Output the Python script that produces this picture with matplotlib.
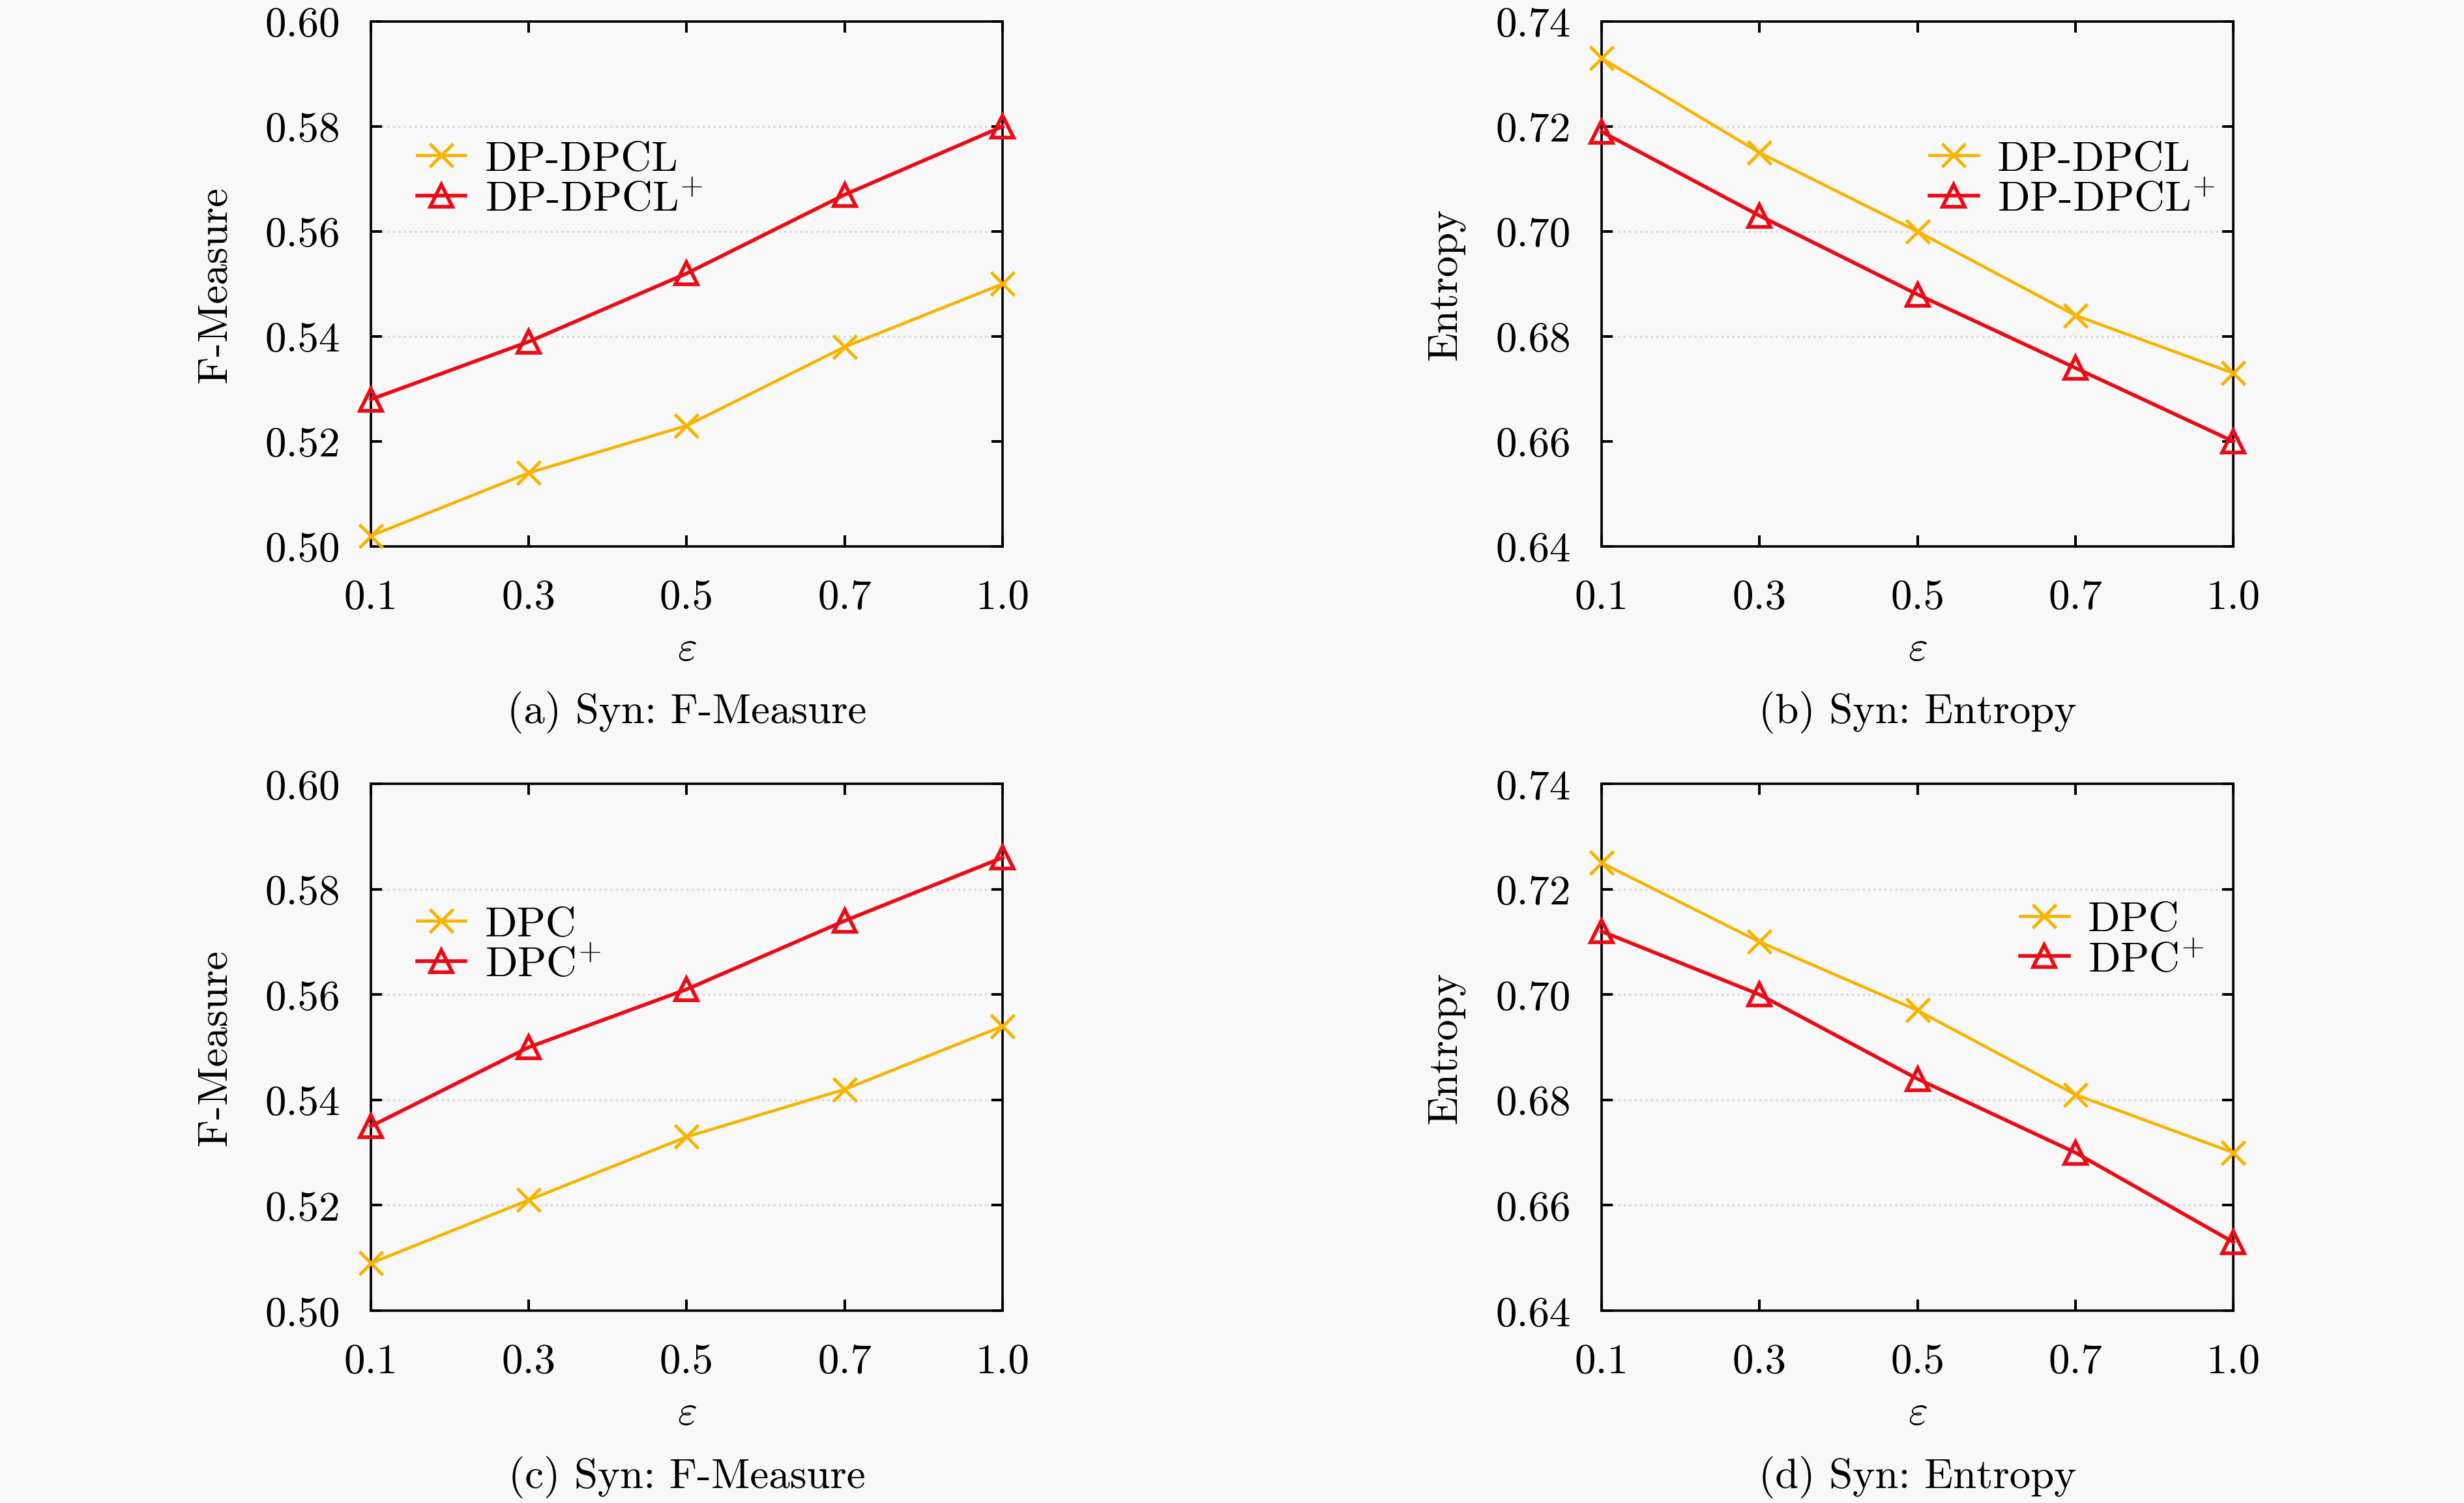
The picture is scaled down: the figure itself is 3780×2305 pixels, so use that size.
import matplotlib
matplotlib.use("Agg")
import matplotlib.pyplot as plt

plt.rcParams["font.family"] = ["cmr10", "DejaVu Serif"]
plt.rcParams["mathtext.fontset"] = "cm"
plt.rcParams["axes.formatter.use_mathtext"] = True

# data
eps_labels = ["0.1", "0.3", "0.5", "0.7", "1.0"]

fm_dpdpcl = [0.502, 0.514, 0.523, 0.538, 0.550]
fm_dpdpcl_plus = [0.528, 0.539, 0.552, 0.567, 0.580]
ent_dpdpcl = [0.733, 0.715, 0.700, 0.684, 0.673]
ent_dpdpcl_plus = [0.719, 0.703, 0.688, 0.674, 0.660]

fm_dpc = [0.509, 0.521, 0.533, 0.542, 0.554]
fm_dpc_plus = [0.535, 0.550, 0.561, 0.574, 0.586]
ent_dpc = [0.725, 0.710, 0.697, 0.681, 0.670]
ent_dpc_plus = [0.712, 0.700, 0.684, 0.670, 0.653]

fm_ticks = [0.50, 0.52, 0.54, 0.56, 0.58, 0.60]
ent_ticks = [0.64, 0.66, 0.68, 0.70, 0.72, 0.74]

YELLOW = "#f6b400"
RED = "#ea0b16"
BG = "#f8f8f8"
FS = 19.5

panels = [
    # rect, base, plus, names, ticks, ylabel, caption, grid levels, legend anchor
    ([0.1505, 0.6362, 0.2564, 0.3491], fm_dpdpcl, fm_dpdpcl_plus,
     ("DP-DPCL", "DP-DPCL$^{+}$"), fm_ticks, "F-Measure", "(a) Syn: F-Measure",
     fm_ticks[2:5], (0.073, 0.699)),
    ([0.6500, 0.6362, 0.2564, 0.3491], ent_dpdpcl, ent_dpdpcl_plus,
     ("DP-DPCL", "DP-DPCL$^{+}$"), ent_ticks, "Entropy", "(b) Syn: Entropy",
     ent_ticks[2:5], (0.519, 0.699)),
    ([0.1505, 0.1279, 0.2564, 0.3504], fm_dpc, fm_dpc_plus,
     ("DPC", "DPC$^{+}$"), fm_ticks, "F-Measure", "(c) Syn: F-Measure",
     fm_ticks[1:5], (0.073, 0.694)),
    ([0.6500, 0.1279, 0.2564, 0.3504], ent_dpc, ent_dpc_plus,
     ("DPC", "DPC$^{+}$"), ent_ticks, "Entropy", "(d) Syn: Entropy",
     ent_ticks[1:5], (0.6625, 0.703)),
]

fig = plt.figure(figsize=(15.75, 9.6083), dpi=240, facecolor=BG)

x = list(range(len(eps_labels)))
for rect, base, plus, names, ticks, ylabel, caption, grid_levels, anchor in panels:
    ax = fig.add_axes(rect, facecolor=BG)

    for g in grid_levels:
        ax.axhline(g, color="#d9d9d9", lw=1.0, ls=(0, (1, 1.5)), zorder=0)

    ax.plot(x, base, color=YELLOW, lw=1.4, marker="x", ms=11, mew=1.5,
            label=names[0], zorder=3, clip_on=False)
    ax.plot(x, plus, color=RED, lw=1.7, marker="^", ms=10, mew=1.7,
            mfc="none", label=names[1], zorder=4, clip_on=False)

    ax.set_xlim(0, len(eps_labels) - 1)
    ax.set_ylim(ticks[0], ticks[-1])
    ax.set_xticks(x)
    ax.set_xticklabels(eps_labels)
    ax.set_yticks(ticks)
    ax.set_yticklabels([f"{t:.2f}" for t in ticks])
    ax.tick_params(direction="in", top=True, right=True, length=5, width=1.2,
                   labelsize=FS, color="black")
    ax.tick_params(axis="x", pad=15)
    ax.tick_params(axis="y", pad=14)
    for s in ax.spines.values():
        s.set_linewidth(1.1)

    ax.set_ylabel(ylabel, fontsize=FS)
    ax.yaxis.set_label_coords(-0.2165, 0.5)
    ax.text(0.5, -0.196, r"$\varepsilon$", transform=ax.transAxes,
            ha="center", va="center", fontsize=FS)
    ax.text(0.5, -0.315, caption, transform=ax.transAxes,
            ha="center", va="center", fontsize=FS)

    ax.legend(loc="center left", bbox_to_anchor=anchor, frameon=False,
              fontsize=FS, borderpad=0, borderaxespad=0, handlelength=1.15,
              handletextpad=0.45, labelspacing=0.05)

fig.savefig("out.png", dpi=240, facecolor=BG)
